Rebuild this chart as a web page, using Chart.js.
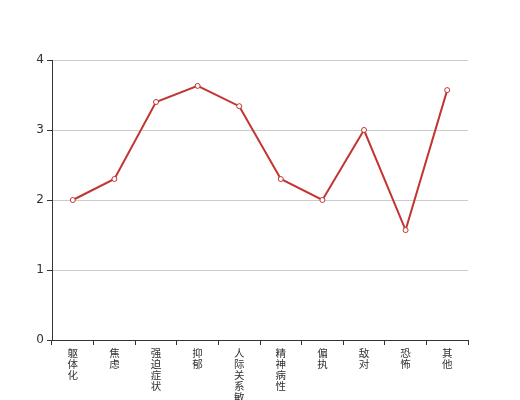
<!DOCTYPE html>
<html>
<head>
<meta charset="utf-8">
<script src="https://cdn.jsdelivr.net/npm/chart.js@4"></script>
<style>
  html, body { margin: 0; padding: 0; background: #fff; }
  #wrap { width: 520px; height: 400px; }
</style>
</head>
<body>
<div id="wrap"><canvas id="myChart" width="520" height="400"></canvas></div>
<script>
// 因子名称 / 得分
const categories = ["躯体化", "焦虑", "强迫症状", "抑郁", "人际关系敏感", "精神病性", "偏执", "敌对", "恐怖", "其他"];
const scores = [2.0, 2.3, 3.4, 3.63, 3.34, 2.3, 2.0, 3.0, 1.57, 3.57];
const yTicks = [0, 1, 2, 3, 4];

// 竖排标签: 每个字一行
const labels = categories.map(function (c) { return c.split(""); });

const ctx = document.getElementById('myChart').getContext('2d');
const myChart = new Chart(ctx, {
    type: 'line',
    data: {
        labels: labels,
        datasets: [{
            data: scores,
            borderColor: '#c23531',
            borderWidth: 2,
            backgroundColor: '#ffffff',
            pointBackgroundColor: '#ffffff',
            pointBorderColor: '#c23531',
            pointBorderWidth: 1,
            pointRadius: 2.5,
            tension: 0,
            fill: false
        }]
    },
    options: {
        responsive: false,
        animation: false,
        layout: { padding: { top: 60, right: 52, left: 0, bottom: 0 } },
        plugins: { legend: { display: false }, tooltip: { enabled: false } },
        scales: {
            x: {
                offset: true,
                grid: { offset: true, drawOnChartArea: false, drawTicks: true, tickLength: 5, tickColor: '#333' },
                border: { color: '#333', width: 1 },
                ticks: {
                    maxRotation: 0,
                    minRotation: 0,
                    autoSkip: false,
                    padding: 3,
                    color: '#333',
                    font: { size: 10.5, family: '"Noto Sans CJK SC", sans-serif', lineHeight: '11px' }
                },
                afterFit: function (scale) { scale.height = 60; }
            },
            y: {
                min: 0,
                max: 4,
                afterBuildTicks: function (scale) {
                    scale.ticks = yTicks.map(function (v) { return { value: v }; });
                },
                grid: { color: '#ccc', tickLength: 5, tickColor: '#333' },
                border: { color: '#333', width: 1 },
                ticks: {
                    padding: 3,
                    color: '#333',
                    font: { size: 12, family: '"DejaVu Sans", sans-serif' }
                },
                afterFit: function (scale) { scale.width = 52; }
            }
        }
    }
});
</script>
</body>
</html>
